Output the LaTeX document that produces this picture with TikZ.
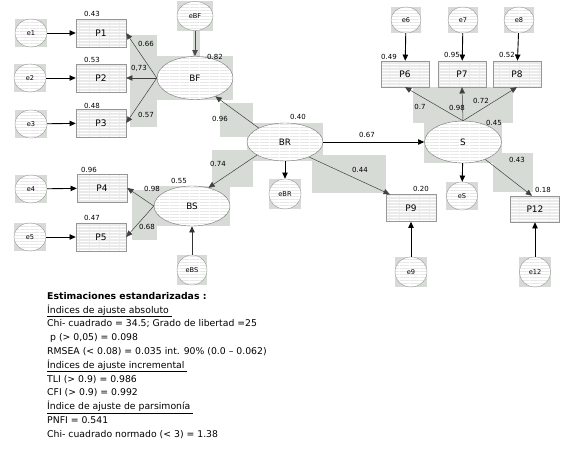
\documentclass[tikz,border=0pt]{standalone}
\usepackage{fontspec}
\setmainfont{DejaVu Sans}
\usetikzlibrary{shapes.geometric,arrows.meta,patterns,backgrounds}
\definecolor{hlgray}{RGB}{214,219,214}
\definecolor{boxgray}{RGB}{234,234,234}
\definecolor{edgegray}{RGB}{150,150,150}
\pgfdeclarepatternformonly{thinstripes}{\pgfpointorigin}{\pgfpoint{10pt}{3pt}}%
  {\pgfpoint{10pt}{3pt}}{\pgfpathrectangle{\pgfpointorigin}{\pgfpoint{10pt}{1pt}}\pgfusepath{fill}}

\begin{document}
\begin{tikzpicture}[
  x=1pt, y=-1pt,
  font=\fontsize{7}{8}\selectfont,
  >={Triangle[length=2.2mm,width=1.9mm]},
  item/.style={rectangle, draw=edgegray, preaction={fill=boxgray},
               pattern=thinstripes, pattern color=white,
               minimum width=50pt, minimum height=28pt, inner sep=0pt,
               font=\fontsize{9}{10}\selectfont},
  latent/.style={ellipse, draw=gray!90!black, preaction={fill=white},
                 pattern=thinstripes, pattern color=gray!18,
                 minimum width=76pt, minimum height=42pt, inner sep=0pt,
                 font=\fontsize{8.8}{10}\selectfont},
  err/.style={ellipse, draw=edgegray, preaction={fill=white},
              pattern=thinstripes, pattern color=gray!18,
              minimum width=32pt, minimum height=28pt, inner sep=0pt,
              font=\fontsize{6.6}{7}\selectfont},
  coef/.style={inner sep=0pt, font=\fontsize{7}{8}\selectfont},
  load/.style={->, draw=gray!50!black, line width=0.5pt},
  res/.style={->, line width=0.9pt},
  hl/.style={fill=hlgray},
]
\useasboundingbox (0,0) rectangle (574,452);

% ---- BF block ----
\node[err] (e1) at (31,33) {e1};
\node[err] (e2) at (30,78) {e2};
\node[err] (e3) at (31,124) {e3};
\node[item] (p1) at (101,33) {P1};
\node[item] (p2) at (101,78) {P2};
\node[item] (p3) at (101,123) {P3};
\node[latent, minimum height=43pt] (bf) at (195,78) {BF};
\node[err, minimum width=36pt, minimum height=29pt] (ebf) at (195,16) {eBF};

% ---- BS block ----
\node[err] (e4) at (31,189) {e4};
\node[err] (e5) at (30,237) {e5};
\node[item] (p4) at (102,188) {P4};
\node[item] (p5) at (101,237) {P5};
\node[latent, minimum height=40pt] (bs) at (192,206) {BS};
\node[err, minimum width=30pt, minimum height=30pt] (ebs) at (192,270) {eBS};

% ---- BR ----
\node[latent, minimum height=38pt] (br) at (285,142) {BR};
\node[err, minimum height=30pt] (ebr) at (285,194) {eBR};

% ---- S block ----
\node[latent, minimum width=77pt] (s) at (463,142) {S};
\node[err, minimum width=31pt] (es) at (462,196) {eS};
\node[item, minimum width=48pt, minimum height=26pt] (p6) at (405,74) {P6};
\node[item, minimum width=48pt, minimum height=26pt] (p7) at (462,74) {P7};
\node[item, minimum width=48pt, minimum height=26pt] (p8) at (517,74) {P8};
\node[err, minimum width=30pt, minimum height=26pt] (e6) at (406,20) {e6};
\node[err, minimum width=30pt, minimum height=26pt] (e7) at (463,20) {e7};
\node[err, minimum width=30pt, minimum height=26pt] (e8) at (519,20) {e8};
\node[item, minimum height=27pt] (p9) at (411,208) {P9};
\node[item, minimum width=49pt, minimum height=26pt] (p12) at (535,209) {P12};
\node[err, minimum height=30pt] (e9) at (411,272) {e9};
\node[err, minimum width=31pt, minimum height=30pt] (e12) at (535,272) {e12};

% ---- paths ----
\foreach \i in {1,...,5} \draw[res] (e\i) -- (p\i);
\foreach \i in {1,2,3} \draw[load] (bf.west) -- (p\i.east);
\foreach \i in {4,5} \draw[load] (bs.west) -- (p\i.east);
\draw[res, draw=gray!60!black] (ebf) -- (bf);
\draw[res, draw=gray!40!black] (ebs) -- (bs);
\draw[load] (br.152) -- (bf.-42);
\draw[load] (br.205) -- (bs.48);
\draw[res] (br) -- (ebr);
\draw[res, line width=0.7pt] (br) -- (s);
\draw[load] (br.-32) -- ([xshift=4pt]p9.north west);
\foreach \i in {6,7,8} {
  \draw[load] (s.north) -- (p\i.south);
  \draw[res] (e\i) -- (p\i);
}
\draw[res] (s) -- (es);
\draw[load] (s.-38) -- ([xshift=-3pt]p12.north);
\draw[res] (e9) -- (p9);
\draw[res] (e12) -- (p12);

% ---- coefficients ----
\node[coef] (r1) at (92,14) {0.43};
\node[coef] (r2) at (92,60) {0.53};
\node[coef] (r3) at (92,106) {0.48};
\node[coef] (l1) at (146,44) {0.66};
\node[coef] (l2) at (139,68) {0,73};
\node[coef] (l3) at (146,115) {0.57};
\node[coef] (rbf) at (215,57) {0.82};
\node[coef] (gbf) at (220,119) {0.96};
\node[coef] (rbr) at (298,117) {0.40};
\node[coef] (gs) at (367,135) {0.67};
\node[coef] (gbs) at (218,164) {0.74};
\node[coef] (rbs) at (179,181) {0.55};
\node[coef] (l4) at (152,189) {0.98};
\node[coef] (l5) at (147,227) {0.68};
\node[coef] (r4) at (89,170) {0.96};
\node[coef] (r5) at (92,218) {0.47};
\node[coef] (g9) at (360,170) {0.44};
\node[coef] (r9) at (421,189) {0.20};
\node[coef] (r6) at (389,57) {0.49};
\node[coef] (r7) at (452,55) {0.95};
\node[coef] (r8) at (507,55) {0.52};
\node[coef] (l6) at (420,107) {0.7};
\node[coef] (l7) at (457,108) {0.98};
\node[coef] (l8) at (481,101) {0.72};
\node[coef] (rs) at (494,123) {0.45};
\node[coef] (l12) at (517,160) {0.43};
\node[coef] (r12) at (543,190) {0.18};

% ---- fit indices ----
\node[anchor=north west, inner sep=0pt, align=left,
      font=\fontsize{9.3}{13.8}\selectfont] (fit) at (47,292) {%
  \textbf{Estimaciones estandarizadas :}\\
  \underline{Índices de ajuste absoluto\ }\\
  Chi- cuadrado = 34.5; Grado de libertad =25\\
  \ p (> 0,05) = 0.098\\
  RMSEA (< 0.08) = 0.035 int. 90\% (0.0 – 0.062)\\
  \underline{Índices de ajuste incremental\ }\\
  TLI (> 0.9) = 0.986\\
  CFI (> 0.9) = 0.992\\
  \underline{Índice de ajuste de parsimonía\ }\\
  PNFI = 0.541\\
  Chi- cuadrado normado (< 3) = 1.38};

% ---- selection shading ----
\begin{scope}[on background layer]
  \foreach \n in {e1,e2,e3,e4,e5,e6,e7,e8,e9,e12,ebf,ebs,ebr,es,bf,bs,br,s}
    \fill[hl] (\n.west |- \n.north) rectangle (\n.east |- \n.south);
  \fill[hl] (130,35) rectangle (157,127);
  \fill[hl] (193,30) rectangle (200,57);
  \fill[hl] (220,103) rectangle (253,137);
  \fill[hl] (212,150) rectangle (253,187);
  \fill[hl] (312,155) rectangle (386,193);
  \fill[hl] (132,190) rectangle (157,240);
  \fill[hl] (413,87) rectangle (513,123);
  \fill[hl] (493,153) rectangle (533,192);
\end{scope}
\end{tikzpicture}
\end{document}
